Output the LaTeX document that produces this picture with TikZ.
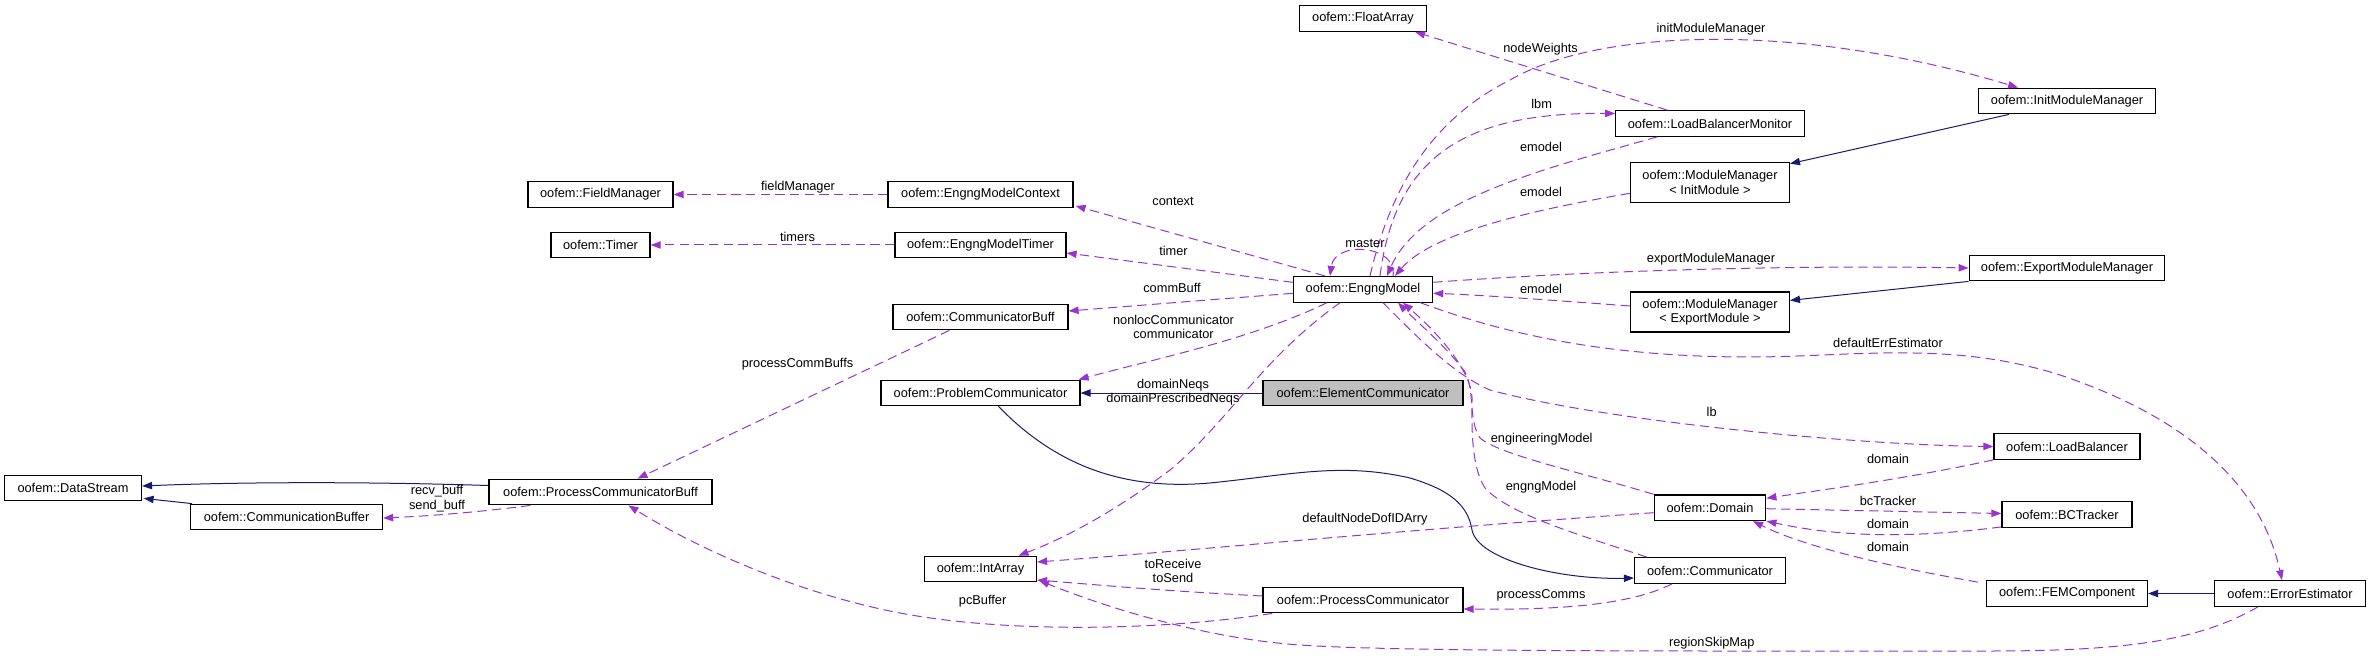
\documentclass[tikz,border=0pt]{standalone}
\usepackage{fontspec}
\setmainfont{Liberation Sans}
\usetikzlibrary{arrows.meta,calc}
\definecolor{usecol}{HTML}{9A32CD}
\definecolor{inhcol}{HTML}{191970}
\definecolor{focuscol}{HTML}{BFBFBF}
\begin{document}
\begin{tikzpicture}[x=0.75pt,y=-0.75pt,
 cls/.style={draw=black, line width=0.9pt, fill=white, inner sep=0pt, minimum height=19.2pt, font=\fontsize{9.6}{10.9}\selectfont, align=center},
 lbl/.style={inner sep=0pt, font=\fontsize{9.6}{10.9}\selectfont, align=center},
 usage/.style={draw=usecol, line width=0.75pt, dash pattern=on 7pt off 4pt, -{Triangle[length=7.5pt,width=5.5pt,fill=usecol]}},
 inherit/.style={draw=inhcol, line width=0.75pt, -{Triangle[length=7.5pt,width=5.5pt,fill=inhcol]}},
]
\useasboundingbox (0,0) rectangle (2371,656);

% nodes
\node[cls, minimum width=95.25pt] (fa) at (1363,18.5) {oofem::FloatArray};
\node[cls, minimum width=108.75pt] (fm) at (600.5,194.5) {oofem::FieldManager};
\node[cls, minimum width=74.25pt] (tm) at (600.5,245) {oofem::Timer};
\node[cls, minimum width=138.75pt] (emc) at (980.5,194.5) {oofem::EngngModelContext};
\node[cls, minimum width=128.25pt] (emt) at (980.5,245) {oofem::EngngModelTimer};
\node[cls, minimum width=104.5pt] (em) at (1363,289.3) {oofem::EngngModel};
\node[cls, minimum width=131.25pt] (cb) at (980.5,317) {oofem::CommunicatorBuff};
\node[cls, minimum width=149.25pt] (pc) at (980.5,393) {oofem::ProblemCommunicator};
\node[cls, minimum width=150pt, fill=focuscol] (ec) at (1363,393) {oofem::ElementCommunicator};
\node[cls, minimum width=84pt] (ia) at (980.5,569) {oofem::IntArray};
\node[cls, minimum width=150pt] (pcomm) at (1363,600) {oofem::ProcessCommunicator};
\node[cls, minimum width=102.75pt] (ds) at (73,488) {oofem::DataStream};
\node[cls, minimum width=144pt] (cbuf) at (286.6,517) {oofem::CommunicationBuffer};
\node[cls, minimum width=167.25pt] (pcb) at (600.5,492) {oofem::ProcessCommunicatorBuff};
\node[cls, minimum width=132.5pt] (imm) at (2067,101) {oofem::InitModuleManager};
\node[cls, minimum width=141.3pt] (lbm) at (1710,123.5) {oofem::LoadBalancerMonitor};
\node[cls, minimum width=119.1pt, minimum height=30pt] (mmi) at (1710,182.3) {oofem::ModuleManager\\< InitModule >};
\node[cls, minimum width=146.7pt] (emm) at (2067,268) {oofem::ExportModuleManager};
\node[cls, minimum width=119.1pt, minimum height=30pt] (mme) at (1710,312) {oofem::ModuleManager\\< ExportModule >};
\node[cls, minimum width=109.5pt] (lb) at (2067,446.5) {oofem::LoadBalancer};
\node[cls, minimum width=83.7pt] (dom) at (1710,507.7) {oofem::Domain};
\node[cls, minimum width=97.5pt] (bct) at (2067,514.5) {oofem::BCTracker};
\node[cls, minimum width=113.25pt] (comm) at (1710,570.5) {oofem::Communicator};
\node[cls, minimum width=120.75pt] (fem) at (2067,593.5) {oofem::FEMComponent};
\node[cls, minimum width=113.25pt] (ee) at (2290,593.5) {oofem::ErrorEstimator};

% inheritance
\draw[inherit] ($(pcb.west)+(0,-6.5)$) .. controls (380,482) and (250,481.5) .. ($(ds.east)+(0,-2)$);
\draw[inherit] ($(cbuf.north west)+(2,0)$) -- ($(ds.south east)+(1.5,-3)$);
\draw[inherit] (ec.west) -- (pc.east);
\draw[inherit] ($(pc.south)+(18,0)$) .. controls (1060,470) and (1130,490) .. (1210,483)
   .. controls (1290,475) and (1340,462) .. (1410,478)
   .. controls (1450,490) and (1468,505) .. (1472,530)
   .. controls (1478,560) and (1560,580) .. ($(comm.west)+(0,7.5)$);
\draw[inherit] ($(imm.south west)+(31,0)$) -- ($(mmi.north east)+(0,2)$);
\draw[inherit] (emm.south west) -- ($(mme.north east)+(0,9)$);
\draw[inherit] (ee.west) -- (fem.east);

% usage
\draw[usage] (emc.west) -- (fm.east);
\draw[usage] (emt.west) -- (tm.east);
\draw[usage] ($(em.north west)+(32,0)$) -- ($(emc.south east)+(2,-2)$);
\draw[usage] ($(em.west)+(0,-7)$) -- ($(emt.east)+(0,8)$);
\draw[usage] ($(em.west)+(0,4)$) -- ($(cb.east)+(0,-6)$);
\draw[usage] ($(em.south)+(-36,0)$) .. controls (1250,340) and (1150,360) .. ($(pc.north east)+(-2,0)$);
\draw[usage] ($(em.south)+(-23,0)$) .. controls (1260,360) and (1230,420) .. (1170,470)
   .. controls (1110,515) and (1060,540) .. ($(ia.north)+(38,0)$);
\draw[usage] ($(em.north)+(30,0)$) .. controls (1398,245) and (1335,240) .. ($(em.north)+(-33,0)$);
\draw[usage] ($(em.north)+(7,0)$) .. controls (1390,190) and (1430,120) .. (1510,80)
   .. controls (1600,28) and (1800,22) .. ($(imm.north west)+(40,0)$);
\draw[usage] ($(em.north)+(17,0)$) .. controls (1395,160) and (1460,112) .. ($(lbm.west)+(0,-10)$);
\draw[usage] ($(lbm.south west)+(42,0)$) .. controls (1540,170) and (1420,200) .. ($(em.north)+(24,0)$);
\draw[usage] ($(mmi.west)+(0,11)$) .. controls (1520,212) and (1430,235) .. ($(em.north)+(32,0)$);
\draw[usage] ($(em.east)+(0,-7)$) .. controls (1600,270) and (1800,265) .. (emm.west);
\draw[usage] ($(mme.west)+(0,-6)$) .. controls (1550,300) and (1480,295) .. ($(em.east)+(0,4)$);
\draw[usage] ($(em.south east)+(-13,0)$) .. controls (1500,332) and (1600,357) .. (1750,357)
   .. controls (1850,357) and (1950,340) .. (2060,375)
   .. controls (2180,415) and (2260,480) .. ($(ee.north)+(-8,0)$);
\draw[usage] ($(em.south)+(20,0)$) .. controls (1420,340) and (1455,375) .. (1490,390)
   .. controls (1600,420) and (1850,445) .. (lb.west);
\draw[usage] (dom.north west) .. controls (1580,472) and (1500,455) .. (1480,438)
   .. controls (1468,420) and (1475,390) .. (1465,372)
   .. controls (1445,345) and (1420,325) .. ($(em.south)+(35,0)$);
\draw[usage] ($(comm.north west)+(13,0)$) .. controls (1580,535) and (1510,515) .. (1485,488)
   .. controls (1470,465) and (1472,420) .. (1472,397)
   .. controls (1470,370) and (1440,335) .. ($(em.south)+(40,0)$);
\draw[usage] ($(dom.west)+(0,5)$) .. controls (1400,530) and (1200,550) .. ($(ia.east)+(0,-7)$);
\draw[usage] (lb.south west) .. controls (1900,480) and (1820,490) .. ($(dom.north east)+(0,4)$);
\draw[usage] ($(dom.east)+(0,1)$) -- ($(bct.west)+(0,-1)$);
\draw[usage] ($(bct.south west)+(0,-1)$) .. controls (1900,540) and (1830,535) .. (dom.south east);
\draw[usage] ($(fem.north west)+(-8,2)$) .. controls (1880,565) and (1800,545) .. ($(dom.south)+(43,0)$);
\draw[usage] ($(comm.south)+(-38,0)$) .. controls (1630,605) and (1560,610) .. ($(pcomm.east)+(0,9)$);
\draw[usage] ($(pcomm.west)+(0,-4)$) .. controls (1150,590) and (1100,585) .. ($(ia.east)+(0,11)$);
\draw[usage] ($(pcomm.south west)+(10,0)$) .. controls (1150,632) and (1000,632) .. (900,613)
   .. controls (800,594) and (700,550) .. ($(pcb.south)+(28,0)$);
\draw[usage] ($(cb.south west)+(57,0)$) -- ($(pcb.north)+(37,0)$);
\draw[usage] ($(pcb.south west)+(42,0)$) .. controls (480,512) and (430,516) .. ($(cbuf.east)+(0,1)$);
\draw[usage] ($(ee.south west)+(44,0)$) .. controls (2200,640) and (2130,651) .. (1990,651)
   .. controls (1700,651) and (1400,652) .. (1300,645)
   .. controls (1200,638) and (1100,605) .. ($(ia.south east)+(2,-2)$);
\draw[usage] ($(lbm.north west)+(52,0)$) -- ($(fa.south east)+(-12,0)$);

% labels
\node[lbl] (l1) at (798,186.7) {fieldManager};
\node[lbl] (l2) at (797.5,237) {timers};
\node[lbl] (l3) at (1173,201) {context};
\node[lbl] (l4) at (1173.5,251) {timer};
\node[lbl] (l5) at (1365,243.3) {master};
\node[lbl] (l6) at (1172,288) {commBuff};
\node[lbl] (l7) at (1173.5,327) {nonlocCommunicator\\communicator};
\node[lbl] (l8) at (1173,392) {domainNeqs\\domainPrescribedNeqs};
\node[lbl] (l9) at (797.5,364.3) {processCommBuffs};
\node[lbl] (l10) at (1365,519.3) {defaultNodeDofIDArry};
\node[lbl] (l11) at (1173,570.8) {toReceive\\toSend};
\node[lbl] (l12) at (982.6,600.7) {pcBuffer};
\node[lbl] (l13) at (1711,28.7) {initModuleManager};
\node[lbl] (l14) at (1540.6,49) {nodeWeights};
\node[lbl] (l15) at (1541.7,103.7) {lbm};
\node[lbl] (l16) at (1541,146.7) {emodel};
\node[lbl] (l17) at (1541,191.7) {emodel};
\node[lbl] (l18) at (1711,258.7) {exportModuleManager};
\node[lbl] (l19) at (1541,288.7) {emodel};
\node[lbl] (l20) at (1888,342.7) {defaultErrEstimator};
\node[lbl] (l21) at (1711.7,411.7) {lb};
\node[lbl] (l22) at (1541.7,439) {engineeringModel};
\node[lbl] (l23) at (1541,486.7) {engngModel};
\node[lbl] (l24) at (1888,459.3) {domain};
\node[lbl] (l25) at (1888,500.7) {bcTracker};
\node[lbl] (l26) at (1888,523.7) {domain};
\node[lbl] (l27) at (1888,546.7) {domain};
\node[lbl] (l28) at (1541,595.7) {processComms};
\node[lbl] (l29) at (1711.7,642.7) {regionSkipMap};
\node[lbl] (l30) at (437,498.7) {recv\_buff\\send\_buff};
\end{tikzpicture}
\end{document}
